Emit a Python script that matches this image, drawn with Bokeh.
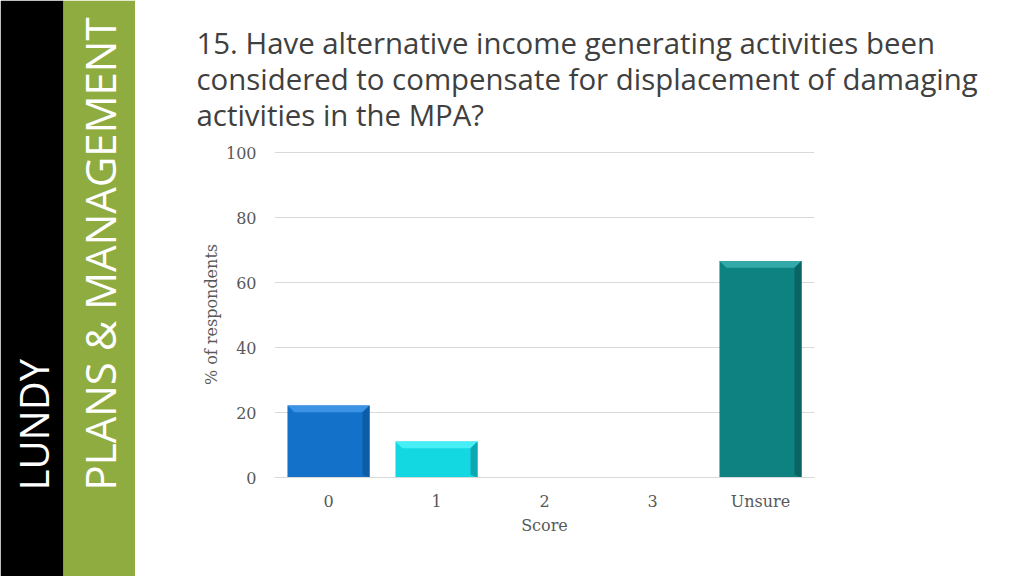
from bokeh.plotting import figure
from bokeh.layouts import row, column
from bokeh.models import Range1d, FixedTicker
from bokeh.core.properties import value
from bokeh.embed import file_html
from bokeh.resources import INLINE

# ---- data ----
categories = ["0", "1", "2", "3", "Unsure"]
percent = [22.2, 11.1, 0.0, 0.0, 66.7]
bar_colors = ["#1471C9", "#13D8E2", "#0E8181"]
top_colors = ["#3C93E6", "#48EEF6", "#33A9A9"]
side_colors = ["#0D5CA6", "#0CA9B2", "#0A6464"]
y_ticks = [0, 20, 40, 60, 80, 100]
title_lines = [
    "15. Have alternative income generating activities been",
    "considered to compensate for displacement of damaging",
    "activities in the MPA?",
]
side_texts = ["LUNDY", "PLANS & MANAGEMENT"]
x_label = "Score"
y_label = "% of respondents"

serif = "DejaVu Serif"
sans = "Open Sans"


def bare(fig):
    fig.axis.visible = False
    fig.grid.visible = False
    fig.outline_line_color = None
    try:
        fig.frame_align = False
    except Exception:
        pass


# ---- sidebar ----
side = figure(width=135, height=576, x_range=Range1d(0, 135), y_range=Range1d(0, 576),
              toolbar_location=None, output_backend="svg", min_border=0)
bare(side)
side.quad(left=[0, 63], right=[63, 135], bottom=[0, 0], top=[576, 576],
          color=["#000000", "#8FAC40"], line_color=None)
side.text(x=[33], y=[86], text=side_texts[:1], angle=1.5708,
          text_color="white", text_font=value(sans), text_font_size="40px",
          text_align="left", text_baseline="middle")
side.text(x=[99], y=[86], text=side_texts[1:], angle=1.5708,
          text_color="white", text_font=value(sans), text_font_size="42px",
          text_align="left", text_baseline="middle")

# ---- title ----
tf = figure(width=889, height=140, x_range=Range1d(0, 889), y_range=Range1d(0, 140),
            toolbar_location=None, output_backend="svg", min_border=0)
bare(tf)
tf.text(x=[61] * len(title_lines), y=[98, 62, 26], text=title_lines,
        text_color="#404040", text_font=value(sans), text_font_size="29.4px",
        text_align="left", text_baseline="middle")

# ---- chart ----
p = figure(width=889, height=436, x_range=Range1d(-0.5, len(categories) - 0.5),
           y_range=Range1d(0, 100.4), toolbar_location=None, output_backend="svg",
           min_border_left=139, min_border_right=210, min_border_top=11, min_border_bottom=99)
p.outline_line_color = None

xs = list(range(len(categories)))
w = 0.76
shown = [(i, v) for i, v in zip(xs, percent) if v > 0]
p.vbar(x=[i for i, _ in shown], top=[v for _, v in shown], width=w, bottom=0,
       fill_color=bar_colors, line_color=None)

bx = 0.065
by = 2.1
top_x, top_y, side_x, side_y = [], [], [], []
for i, v in shown:
    l, r = i - w / 2, i + w / 2
    top_x.append([l, r, r - bx, l + bx])
    top_y.append([v, v, v - by, v - by])
    side_x.append([r, r, r - bx, r - bx])
    side_y.append([v, 0, by * 0.4, v - by])
p.patches(top_x, top_y, fill_color=top_colors, line_color=None)
p.patches(side_x, side_y, fill_color=side_colors, line_color=None)

p.xaxis.ticker = FixedTicker(ticks=xs)
p.xaxis.major_label_overrides = {i: c for i, c in zip(xs, categories)}
p.yaxis.ticker = FixedTicker(ticks=y_ticks)
p.xgrid.visible = False
p.ygrid.grid_line_color = "#D9D9D9"
p.ygrid.ticker = FixedTicker(ticks=y_ticks)

for ax in (p.xaxis, p.yaxis):
    ax.major_tick_line_color = None
    ax.minor_tick_line_color = None
    ax.major_label_text_font = serif
    ax.major_label_text_font_size = "16px"
    ax.major_label_text_color = "#595959"
    ax.axis_label_text_font = serif
    ax.axis_label_text_font_size = "16px"
    ax.axis_label_text_color = "#595959"
    ax.axis_label_text_font_style = "normal"
p.yaxis.axis_line_color = None
p.xaxis.axis_line_color = "#D9D9D9"
p.yaxis.major_label_standoff = 12
p.xaxis.major_label_standoff = 8
p.xaxis.axis_label = x_label
p.yaxis.axis_label = y_label
p.xaxis.axis_label_standoff = 2
p.yaxis.axis_label_standoff = 2

layout = row(side, column(tf, row(p, spacing=0), spacing=0), spacing=0)
open("out.html", "w").write(file_html(layout, INLINE))
